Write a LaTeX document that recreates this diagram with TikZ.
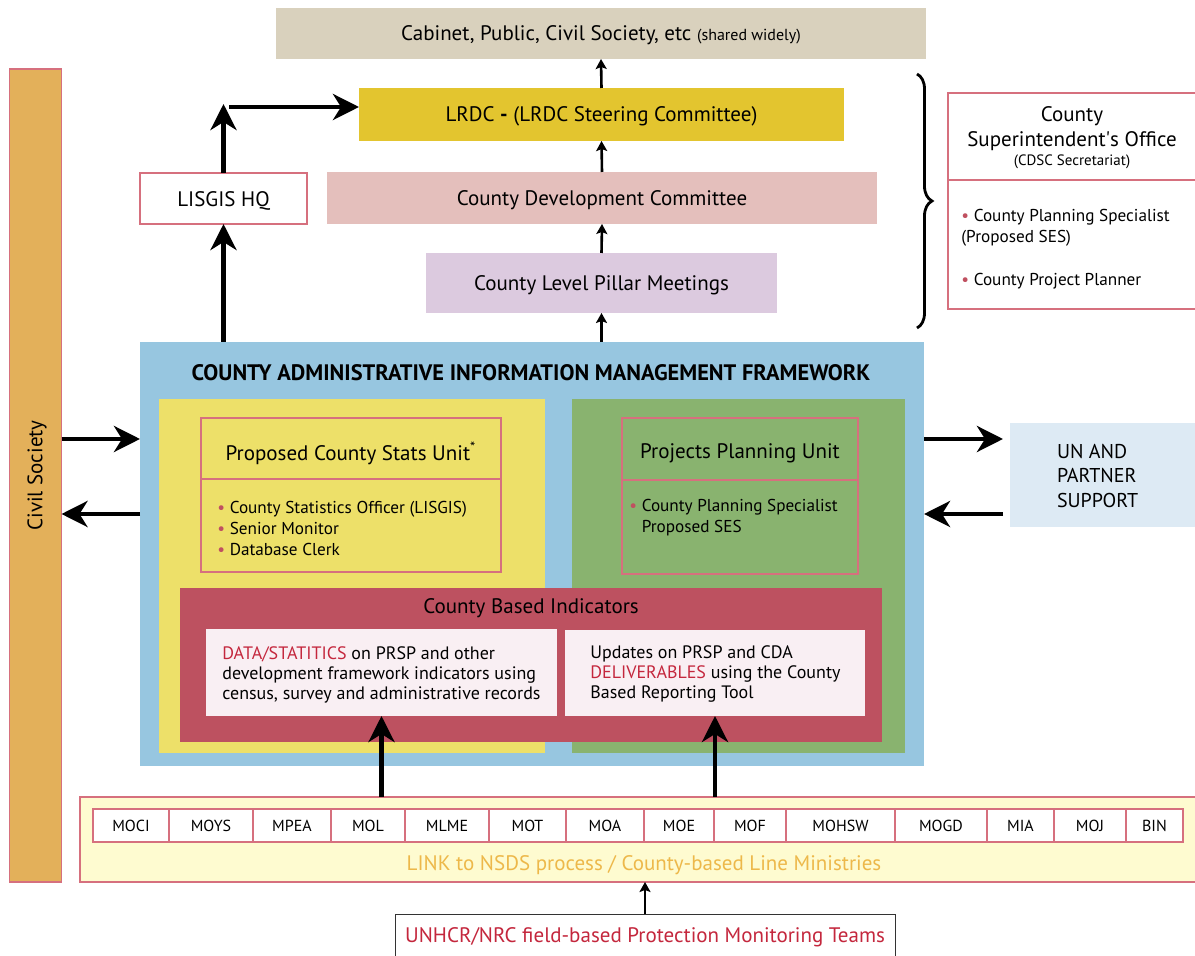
\documentclass[tikz,border=0pt]{standalone}
\usepackage{fontspec}
\setmainfont{PT Sans}
\newfontfamily\nomapfont{PT Sans}[Ligatures=TeXOff]
\usetikzlibrary{arrows.meta,decorations.pathreplacing,positioning}

\definecolor{cabinetc}{HTML}{D9D1BD}
\definecolor{lrdcc}{HTML}{E3C52F}
\definecolor{cdcc}{HTML}{E4BFBC}
\definecolor{pillarc}{HTML}{DCCADF}
\definecolor{civilc}{HTML}{E3B05A}
\definecolor{rosy}{HTML}{D6707E}
\definecolor{framec}{HTML}{97C6E0}
\definecolor{statsc}{HTML}{EDE069}
\definecolor{projc}{HTML}{89B36F}
\definecolor{indc}{HTML}{BD5160}
\definecolor{paperc}{HTML}{F9EFF3}
\definecolor{unc}{HTML}{DDEAF4}
\definecolor{linkc}{HTML}{FEFBD0}
\definecolor{linktext}{HTML}{EDB84A}
\definecolor{alertc}{HTML}{C4273D}
\definecolor{bulc}{HTML}{C05060}

\newcommand{\bul}{{\color{bulc}\textbullet}~}

\tikzset{
  wh/.style 2 args={minimum width=#1*0.5pt, minimum height=#2*0.5pt},
  flat/.style={rectangle, inner sep=0pt, outer sep=0pt, align=center,
    font=\fontsize{10.5}{12.6}\selectfont},
  pinkline/.style={draw=rosy, line width=0.6pt},
  listtext/.style={inner sep=0pt, align=left, font=\fontsize{8.6}{10.5}\selectfont},
  cell/.style={flat, pinkline, fill=white, minimum height=16.5pt,
    font=\fontsize{8}{9.6}\selectfont},
  bigarrow/.style={line width=2.3pt, -{Stealth[length=13pt, width=13pt, inset=4pt]}},
  smallarrow/.style={line width=1.3pt, -{Stealth[length=5pt, width=5.5pt, inset=1pt]}}
}

\begin{document}
\begin{tikzpicture}[x=0.5pt, y=-0.5pt]
\useasboundingbox (0,0) rectangle (1195,956);

% top column
\node[flat, fill=cabinetc, wh={650}{51}] (cabinet) at (601,33.5) {};
\node[flat] (cabinettext) at (601,35)
  {Cabinet, Public, Civil Society, etc {\fontsize{8}{9}\selectfont(shared widely)}};
\node[flat, fill=lrdcc, wh={485}{53}] (lrdc) at (601.5,114.5) {};
\node[flat] (lrdctext) at (601.5,116.5) {LRDC \textbf{-} (LRDC Steering Committee)};
\node[flat, fill=cdcc, wh={550}{52}] (cdc) at (602,198) {};
\node[flat] (cdctext) at (602,200) {County Development Committee};
\node[flat, fill=pillarc, wh={351}{60}] (pillar) at (601.5,283) {};
\node[flat] (pillartext) at (601.5,285) {County Level Pillar Meetings};
\node[flat, pinkline, fill=white, wh={167}{51}] (lisgis) at (223.5,198.5) {};
\node[flat] (lisgistext) at (223.5,200.5) {LISGIS HQ};

% civil society bar
\node[flat, fill=civilc, pinkline, wh={52}{813}] (civil) at (35.5,475.5) {};
\node[flat, rotate=90] (civiltext) at (37,475.5) {Civil Society};

% superintendent's office
\node[flat, pinkline, fill=white, wh={249}{216}] (cso) at (1072.5,201) {};
\draw[pinkline] (cso.west |- 0,180) -- (cso.east |- 0,180);
\node[flat] (csotitle) at (1072,129) {County\\Superintendent{\nomapfont'}s Office};
\node[flat, font=\fontsize{7.5}{9}\selectfont] (csosub) at (1072,162) {(CDSC Secretariat)};
\node[listtext, anchor=west] (csolist1) at (961,228) {\bul County Planning Specialist\\(Proposed SES)};
\node[listtext, anchor=west] (csolist2) at (961,281) {\bul County Project Planner};
\coordinate (bracetop) at (917,74);
\coordinate (bracebot) at (917,328);
\draw[line width=1.4pt, decorate, decoration={brace, amplitude=7.5pt}] (bracetop) -- (bracebot);

% framework
\node[flat, fill=framec, wh={784}{424}] (frame) at (532,554) {};
\node[flat, font=\bfseries\fontsize{11.2}{13}\selectfont] (ftitle) at (531,373)
  {COUNTY ADMINISTRATIVE INFORMATION MANAGEMENT FRAMEWORK};
\node[flat, fill=statsc, wh={386}{354}] (statsbg) at (352,576) {};
\node[flat, fill=projc, wh={333}{354}] (projbg) at (738.5,576) {};

\node[flat, pinkline, wh={300}{154}] (stats) at (351,495) {};
\draw[pinkline] (stats.west |- 0,479) -- (stats.east |- 0,479);
\node[flat] (statstitle) at (351,453.5) {Proposed County Stats Unit\textsuperscript{*}};
\node[listtext, anchor=west] (statslist) at (217,528)
  {\bul County Statistics Officer (LISGIS)\\\bul Senior Monitor\\\bul Database Clerk};

\node[flat, pinkline, wh={236}{156}] (proj) at (740,496) {};
\draw[pinkline] (proj.west |- 0,480) -- (proj.east |- 0,480);
\node[flat] (projtitle) at (740,453.5) {Projects Planning Unit};
\node[listtext, anchor=west] (projlist) at (629,518)
  {\bul County Planning Specialist\\\phantom{\bul}Proposed SES};

\node[flat, fill=indc, wh={702}{154}] (ind) at (531,665) {};
\node[flat] (indtitle) at (531,608.5) {County Based Indicators};
\node[flat, fill=paperc, wh={351}{87}] (dataL) at (381.5,672.5) {};
\node[flat, fill=paperc, wh={300}{86}] (dataR) at (715,673) {};
\node[listtext, anchor=west, font=\fontsize{9}{10}\selectfont] (dataLtext) at (222,674.5)
  {{\color{alertc}DATA/STATITICS} on PRSP and other\\development framework indicators using\\census, survey and administrative records};
\node[listtext, anchor=west, font=\fontsize{9}{10}\selectfont] (dataRtext) at (590,674.5)
  {Updates on PRSP and CDA\\{\color{alertc}DELIVERABLES} using the County\\Based Reporting Tool};

% partners
\node[flat, fill=unc, wh={187}{104}] (un) at (1103.5,475) {};
\node[flat, anchor=west, align=left, font=\fontsize{10}{12.2}\selectfont] (untext) at (1057,476)
  {UN AND\\PARTNER\\SUPPORT};

% line ministries
\node[flat, fill=linkc, pinkline, wh={1117}{85}] (link) at (638.5,839.5) {};
\foreach \m/\a/\b in {MOCI/93/169, MOYS/169/253, MPEA/253/331, MOL/331/405,
    MLME/405/489, MOT/489/566, MOA/566/644, MOE/644/714, MOF/714/786,
    MOHSW/786/895, MOGD/895/987, MIA/987/1054, MOJ/1054/1126, BIN/1126/1183}
  \node[cell, minimum width={(\b-\a)*0.5pt}] (m\m) at ({(\a+\b)/2},825.5) {\m};
\node[flat, text=linktext] (linktext) at (644,865.5)
  {LINK to NSDS process / County-based Line Ministries};
\node[flat, draw=black!80, line width=0.5pt, fill=white, wh={500}{48}] (unhcr) at (645,938) {};
\node[flat, text=alertc] (unhcrtext) at (645,937.5)
  {UNHCR/NRC field-based Protection Monitoring Teams};

% arrows
\coordinate (inrow) at (0,439);
\coordinate (outrow) at (0,514);
\coordinate (turn) at (223.5,104);
\coordinate (bend) at (229,107);
\draw[smallarrow] (pillar.south |- frame.north) -- (pillar.south);
\draw[smallarrow] (pillar.north) -- (cdc.south);
\draw[smallarrow] (cdc.north) -- (lrdc.south);
\draw[smallarrow] (lrdc.north) -- (cabinet.south);
\draw[bigarrow] (lisgis.south |- frame.north) -- (lisgis.south);
\draw[bigarrow] (lisgis.north) -- (turn);
\draw[bigarrow] (bend) -- (bend -| lrdc.west);
\draw[bigarrow] (civil.east |- inrow) -- (frame.west |- inrow);
\draw[bigarrow] (frame.west |- outrow) -- (civil.east |- outrow);
\draw[bigarrow, shorten >=3.5pt] (frame.east |- inrow) -- (un.west |- inrow);
\draw[bigarrow, shorten <=3.5pt] (un.west |- outrow) -- (frame.east |- outrow);
\draw[bigarrow] (link.north -| dataL.south) -- (dataL.south);
\draw[bigarrow] (link.north -| dataR.south) -- (dataR.south);
\draw[smallarrow] (unhcr.north) -- (unhcr.north |- link.south);
\end{tikzpicture}
\end{document}
